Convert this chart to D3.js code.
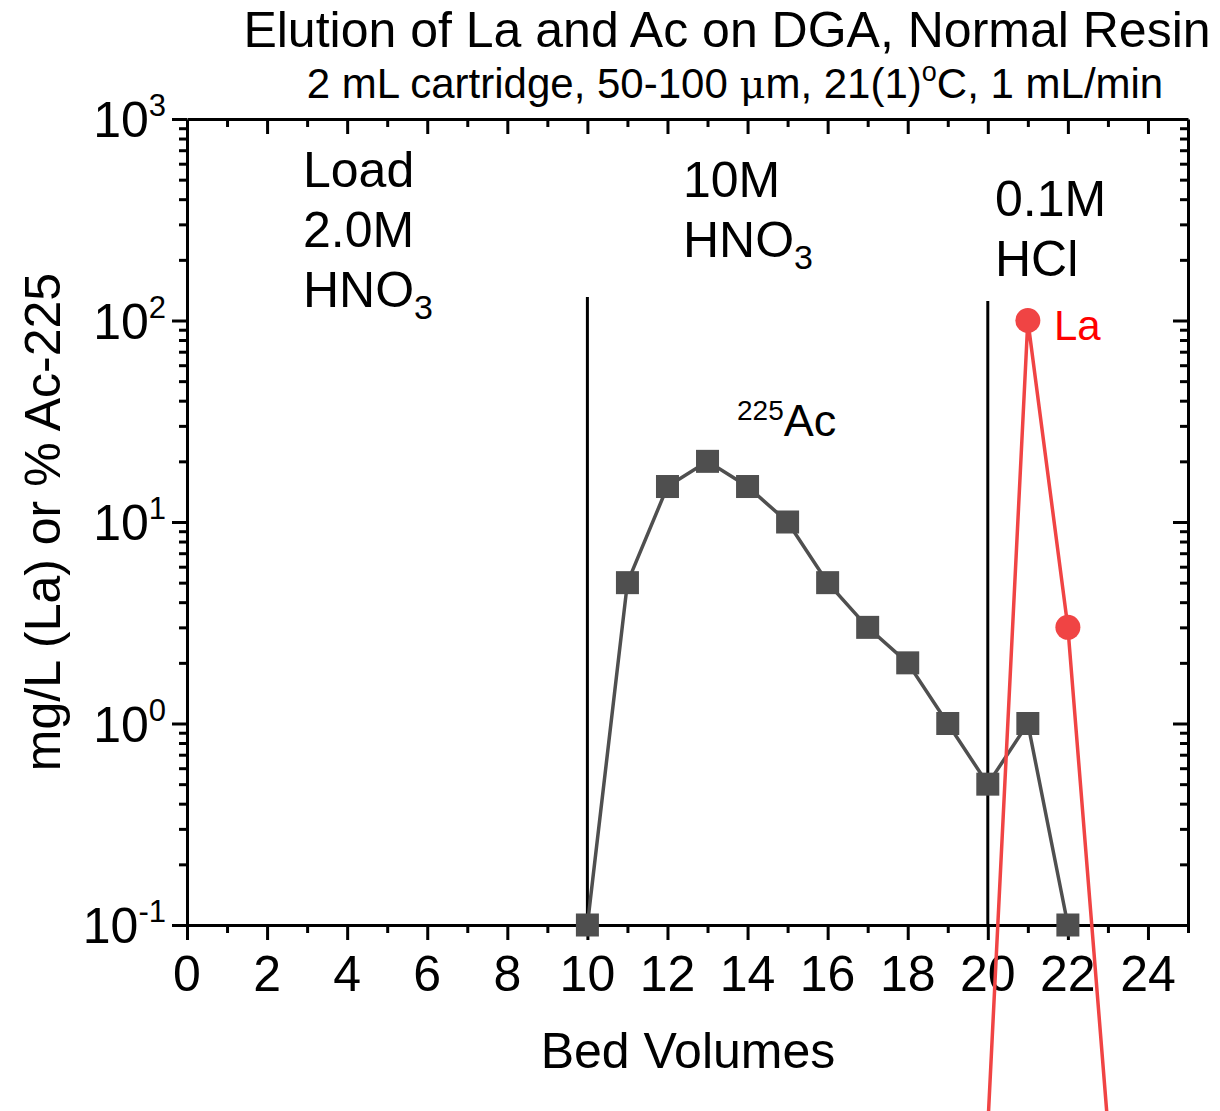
<!DOCTYPE html>
<html><head><meta charset="utf-8">
<script src="https://cdn.jsdelivr.net/npm/d3@7"></script>
<style>
body{margin:0;background:#fff;}
text{font-family:"Liberation Sans",Arial,sans-serif;fill:#000;}
</style></head>
<body><svg id="c" width="1220" height="1111"></svg>
<script>
// ---- data ----
const acBV   = [10,11,12,13,14,15,16,17,18,19,20,21,22];
const acVal  = [0.1,5,15,20,15,10,5,3,2,1,0.5,1,0.1];
const laBV   = [20,21,22,23];
const laVal  = [0.01,100,3,0.01];
const xMajorTicks = [0,2,4,6,8,10,12,14,16,18,20,22,24];
const xMinorTicks = [1,3,5,7,9,11,13,15,17,19,21,23,25];
const yMajorExps  = [-1,0,1,2,3];
const stepLines   = [10,20];

const svg = d3.select("#c");
const L=187,R=1188,T=119,B=925;
const x = d3.scaleLinear().domain([0,25]).range([L,R]);
const y = d3.scaleLog().domain([0.1,1000]).range([B,T]);

const yMajor = yMajorExps.map(e=>Math.pow(10,e));
const yMinor = [];
for(let e=-1;e<3;e++) for(let m=2;m<=9;m++) yMinor.push(m*Math.pow(10,e));

function styleAxis(g,w){g.selectAll("path,line").attr("stroke","#000").attr("stroke-width",w);g.select(".domain").attr("stroke-width",3);}
const fmtNone = ()=>"";
// bottom
svg.append("g").attr("transform",`translate(0,${B})`).call(d3.axisBottom(x).tickValues(xMajorTicks).tickSize(15).tickSizeOuter(0).tickFormat(fmtNone)).call(g=>styleAxis(g,3));
svg.append("g").attr("transform",`translate(0,${B})`).call(d3.axisBottom(x).tickValues(xMinorTicks).tickSize(8).tickSizeOuter(0).tickFormat(fmtNone)).call(g=>{styleAxis(g,3);g.select(".domain").remove();});
// top
svg.append("g").attr("transform",`translate(0,${T})`).call(d3.axisBottom(x).tickValues(xMajorTicks.filter(d=>d>0)).tickSize(15).tickSizeOuter(0).tickFormat(fmtNone)).call(g=>styleAxis(g,3));
svg.append("g").attr("transform",`translate(0,${T})`).call(d3.axisBottom(x).tickValues(xMinorTicks.filter(d=>d<25)).tickSize(8).tickSizeOuter(0).tickFormat(fmtNone)).call(g=>{styleAxis(g,3);g.select(".domain").remove();});
// left
svg.append("g").attr("transform",`translate(${L},0)`).call(d3.axisLeft(y).tickValues(yMajor).tickSize(15).tickSizeOuter(0).tickFormat(fmtNone)).call(g=>styleAxis(g,3));
svg.append("g").attr("transform",`translate(${L},0)`).call(d3.axisLeft(y).tickValues(yMinor).tickSize(8).tickSizeOuter(0).tickFormat(fmtNone)).call(g=>{styleAxis(g,3);g.select(".domain").remove();});
// right
svg.append("g").attr("transform",`translate(${R},0)`).call(d3.axisLeft(y).tickValues(yMajor).tickSize(15).tickSizeOuter(0).tickFormat(fmtNone)).call(g=>styleAxis(g,3)).selectAll(".tick line").attr("x2",-15);
svg.append("g").attr("transform",`translate(${R},0)`).call(d3.axisLeft(y).tickValues(yMinor).tickSize(8).tickSizeOuter(0).tickFormat(fmtNone)).call(g=>{styleAxis(g,3);g.select(".domain").remove();}).selectAll(".tick line").attr("x2",-8);

// x tick labels
svg.append("g").selectAll("text").data(xMajorTicks).join("text")
  .attr("x",d=>x(d)).attr("y",B+66).attr("text-anchor","middle").attr("font-size",50).text(d=>d);
// y tick labels
const yl = svg.append("g").selectAll("text").data(yMajorExps).join("text")
  .attr("x",166).attr("y",d=>y(Math.pow(10,d))+18).attr("text-anchor","end").attr("font-size",50);
yl.append("tspan").text("10");
yl.append("tspan").attr("font-size",31).attr("dy",-21).text(d=>d<0?"-"+Math.abs(d):String(d));

// axis titles
svg.append("text").attr("x",688).attr("y",1068).attr("text-anchor","middle").attr("font-size",50).text("Bed Volumes");
svg.append("text").attr("transform","translate(60,522) rotate(-90)").attr("text-anchor","middle").attr("font-size",50).text("mg/L (La) or % Ac-225");

// titles
svg.append("text").attr("x",727).attr("y",47).attr("text-anchor","middle").attr("font-size",50).text("Elution of La and Ac on DGA, Normal Resin");
const st = svg.append("text").attr("x",735).attr("y",98).attr("text-anchor","middle").attr("font-size",42);
st.append("tspan").text("2 mL cartridge, 50-100 ");
st.append("tspan").attr("font-family","'DejaVu Serif',serif").attr("font-size",40).text("μ");
st.append("tspan").text("m, 21(1)");
st.append("tspan").attr("font-size",27).attr("dy",-17).text("o");
st.append("tspan").attr("dy",17).text("C, 1 mL/min");

// step lines
svg.append("g").selectAll("line").data(stepLines).join("line")
  .attr("x1",d=>x(d)).attr("x2",d=>x(d)).attr("y1",(d,i)=>[297,301][i]).attr("y2",B)
  .attr("stroke","#000").attr("stroke-width",3);

// annotations
function multi(xp,yp,lines){
  lines.forEach((ln,i)=>{
    const t=svg.append("text").attr("x",xp).attr("y",yp+i*60).attr("font-size",50);
    if(ln==="HNO3"){t.append("tspan").text("HNO");t.append("tspan").attr("font-size",34).attr("dy",12).text("3");}
    else t.text(ln);
  });
}
multi(303,187,["Load","2.0M","HNO3"]);
multi(683,197,["10M","HNO3"]);
multi(995,216,["0.1M","HCl"]);
const acl = svg.append("text").attr("x",737).attr("y",436).attr("font-size",45);
acl.append("tspan").attr("font-size",28).attr("dy",-16).text("225");
acl.append("tspan").attr("dy",16).text("Ac");
svg.append("text").attr("x",1054).attr("y",340).attr("font-size",42).style("fill","#ff0000").text("La");

// series
const line = d3.line().x(d=>x(d[0])).y(d=>y(d[1]));
const acData = acBV.map((b,i)=>[b,acVal[i]]);
const laData = laBV.map((b,i)=>[b,laVal[i]]);
svg.append("path").datum(acData).attr("d",line).attr("fill","none").attr("stroke","#4f4f4f").attr("stroke-width",3.5);
svg.append("g").selectAll("rect").data(acData).join("rect")
  .attr("x",d=>x(d[0])-11.5).attr("y",d=>y(d[1])-11.5).attr("width",23).attr("height",23).attr("fill","#4f4f4f");
svg.append("path").datum(laData).attr("d",line).attr("fill","none").attr("stroke","#f04444").attr("stroke-width",3.5);
svg.append("g").selectAll("circle").data(laData.filter(d=>d[1]>=0.1)).join("circle")
  .attr("cx",d=>x(d[0])).attr("cy",d=>y(d[1])).attr("r",12.5).attr("fill","#f04444");
</script></body></html>
